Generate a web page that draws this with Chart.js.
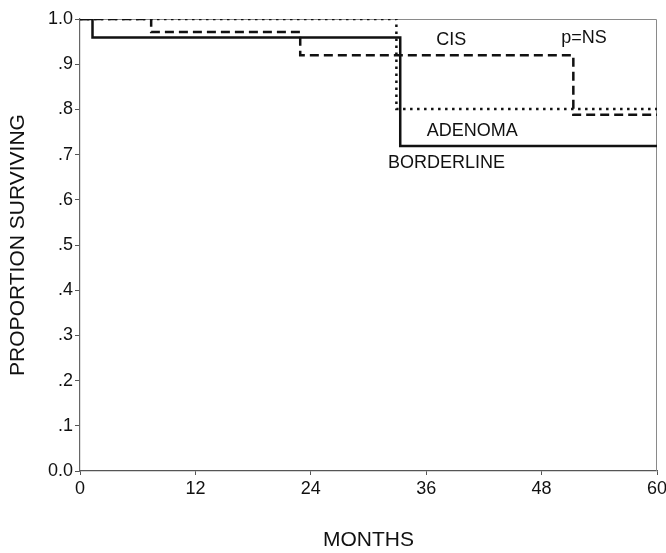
<!DOCTYPE html>
<html>
<head>
<meta charset="utf-8">
<script src="https://cdn.jsdelivr.net/npm/chart.js@4/dist/chart.umd.min.js"></script>
<style>
  html, body { margin: 0; padding: 0; background: #fff; }
  #wrap { width: 666px; height: 553px; position: relative; }
</style>
</head>
<body>
<div id="wrap"><canvas id="km"></canvas></div>
<script>
// Kaplan-Meier steps (months, proportion surviving)
const borderlineMonths = [0, 1.3, 33.3, 60];
const borderlineSurv   = [1.0, 0.959, 0.719, 0.719];
const cisMonths = [0, 7.4, 22.9, 51.3, 60];
const cisSurv   = [1.0, 0.971, 0.920, 0.788, 0.788];
const adenomaMonths = [0, 32.9, 60];
const adenomaSurv   = [1.0, 0.801, 0.801];

const xTicks = [0, 12, 24, 36, 48, 60];

// text placed on the plot (months, proportion)
const notes = [
  { text: 'CIS', x: 38.6, y: 0.954 },
  { text: 'p=NS', x: 52.4, y: 0.958 },
  { text: 'ADENOMA', x: 40.8, y: 0.752 },
  { text: 'BORDERLINE', x: 38.1, y: 0.681 },
];

const FONT = '"Liberation Sans", Arial, sans-serif';
const pts = (xs, ys) => xs.map((m, i) => ({ x: m, y: ys[i] }));

const frameAndNotes = {
  id: 'frameAndNotes',
  beforeDatasetsDraw(chart) {
    const { ctx, chartArea: a } = chart;
    ctx.save();
    ctx.strokeStyle = '#8a8a8a';
    ctx.lineWidth = 1;
    ctx.beginPath();
    ctx.moveTo(a.left, a.top + 0.5);
    ctx.lineTo(a.right - 0.5, a.top + 0.5);
    ctx.lineTo(a.right - 0.5, a.bottom);
    ctx.stroke();
    ctx.restore();
  },
  afterDatasetsDraw(chart) {
    const { ctx, scales } = chart;
    ctx.save();
    ctx.fillStyle = '#111';
    ctx.font = '18px ' + FONT;
    ctx.textAlign = 'center';
    ctx.textBaseline = 'middle';
    notes.forEach(n => {
      ctx.fillText(n.text, scales.x.getPixelForValue(n.x), scales.y.getPixelForValue(n.y));
    });
    ctx.restore();
  }
};

const line = (data, dash) => ({
  data: data, stepped: true, borderColor: '#111', borderWidth: 2.5,
  borderDash: dash, pointRadius: 0, fill: false, tension: 0
});

new Chart(document.getElementById('km'), {
  type: 'line',
  data: {
    datasets: [
      line(pts(adenomaMonths, adenomaSurv), [2.5, 4.5]),
      line(pts(cisMonths, cisSurv), [9, 5]),
      line(pts(borderlineMonths, borderlineSurv), []),
    ]
  },
  options: {
    responsive: true,
    maintainAspectRatio: false,
    animation: false,
    layout: { padding: { left: 0, top: 19, right: 9, bottom: 0 } },
    plugins: { legend: { display: false }, tooltip: { enabled: false } },
    scales: {
      x: {
        type: 'linear', min: 0, max: 60,
        afterFit: s => { s.height = 82; s.paddingLeft = 0; s.paddingRight = 0; },
        afterBuildTicks: s => { s.ticks = xTicks.map(v => ({ value: v })); },
        border: { display: true, color: '#555', width: 1.3 },
        grid: { display: true, drawOnChartArea: false, drawTicks: true, tickLength: 4, color: '#555' },
        ticks: { color: '#111', font: { family: FONT, size: 18 }, padding: 3, maxRotation: 0 },
        title: { display: true, text: 'MONTHS', color: '#111', font: { family: FONT, size: 21 }, padding: { top: 0, bottom: 0 } }
      },
      y: {
        min: 0, max: 1,
        afterFit: s => { s.width = 80; s.paddingTop = 0; s.paddingBottom = 0; },
        border: { display: true, color: '#666', width: 1.2 },
        grid: { display: true, drawOnChartArea: false, drawTicks: true, tickLength: 5, color: '#555' },
        ticks: {
          stepSize: 0.1, autoSkip: false, color: '#111', padding: 2,
          font: { family: FONT, size: 18 },
          callback: v => {
            const d = Math.round(v * 10);
            return d === 0 ? '0.0' : d === 10 ? '1.0' : '.' + d;
          }
        },
        title: { display: true, text: 'PROPORTION SURVIVING', color: '#111', font: { family: FONT, size: 21 }, padding: { top: 6, bottom: 0 } }
      }
    }
  },
  plugins: [frameAndNotes]
});
</script>
</body>
</html>
